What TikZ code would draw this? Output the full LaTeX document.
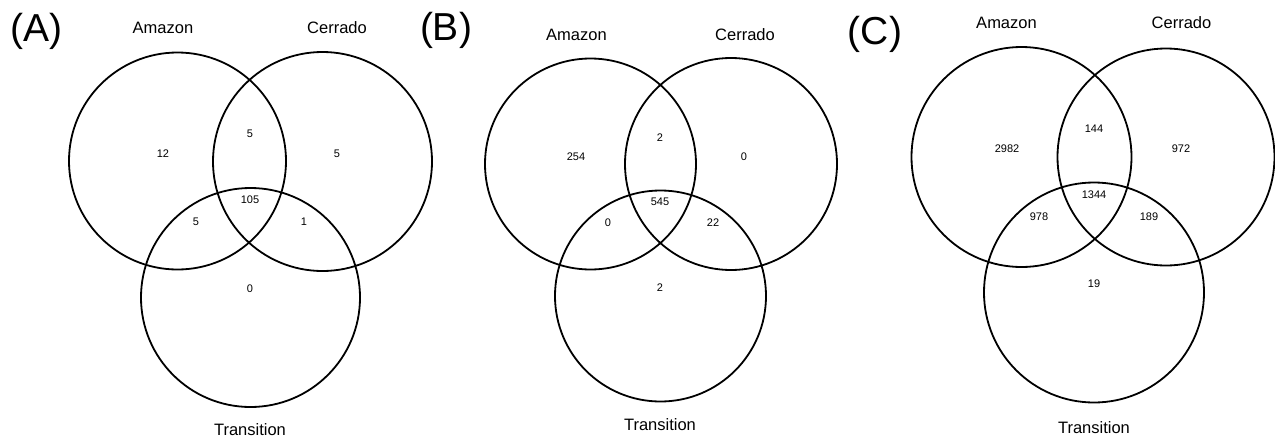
\documentclass[tikz,border=0pt]{standalone}
\usepackage{fontspec}
\setmainfont{Liberation Sans}
\begin{document}
\begin{tikzpicture}[x=1pt,y=-1pt,
  venn/.style={draw=black,line width=1.8pt},
  panel/.style={inner sep=0pt,font=\fontsize{39}{40}\selectfont},
  setlabel/.style={inner sep=0pt,font=\fontsize{16.5}{18}\selectfont},
  count/.style={inner sep=0pt,font=\fontsize{11}{12}\selectfont}]
\useasboundingbox[fill=white] (0,0) rectangle (1275,437);
% ---------- Panel A ----------
\coordinate (aA) at (177.5,161);
\coordinate (aC) at (322.5,161.5);
\coordinate (aT) at (250.5,297.5);
\draw[venn] (aA) circle (108.5);
\draw[venn] (aC) circle (109.5);
\draw[venn] (aT) circle (109.5);
\node[panel] (pA) at (36.5,31) {(A)};
\node[setlabel] (lAa) at (163,28) {Amazon};
\node[setlabel] (lAc) at (337,28) {Cerrado};
\node[setlabel] (lAt) at (250,429.5) {Transition};
\node[count] (nA1) at (163,154) {12};
\node[count] (nA2) at (250,134) {5};
\node[count] (nA3) at (337,154) {5};
\node[count] (nA4) at (250,200) {105};
\node[count] (nA5) at (196,222) {5};
\node[count] (nA6) at (304,222) {1};
\node[count] (nA7) at (250,289) {0};
% ---------- Panel B ----------
\coordinate (bA) at (590.5,164);
\coordinate (bC) at (731,164);
\coordinate (bT) at (660.5,296);
\draw[venn] (bA) circle (105.5);
\draw[venn] (bC) circle (106);
\draw[venn] (bT) circle (105.5);
\node[panel] (pB) at (446,30) {(B)};
\node[setlabel] (lBa) at (576.5,35) {Amazon};
\node[setlabel] (lBc) at (745,35) {Cerrado};
\node[setlabel] (lBt) at (660,425) {Transition};
\node[count] (nB1) at (576,157) {254};
\node[count] (nB2) at (660,138) {2};
\node[count] (nB3) at (744,157) {0};
\node[count] (nB4) at (660,202) {545};
\node[count] (nB5) at (608,223) {0};
\node[count] (nB6) at (713,223) {22};
\node[count] (nB7) at (660,288) {2};
% ---------- Panel C ----------
\coordinate (cA) at (1021.5,157);
\coordinate (cC) at (1166,157);
\coordinate (cT) at (1094,292.5);
\draw[venn] (cA) circle (110);
\draw[venn] (cC) circle (108.5);
\draw[venn] (cT) circle (110);
\node[panel] (pC) at (875,34) {(C)};
\node[setlabel] (lCa) at (1006.5,23) {Amazon};
\node[setlabel] (lCc) at (1181.5,23) {Cerrado};
\node[setlabel] (lCt) at (1094,428) {Transition};
\node[count] (nC1) at (1007,149) {2982};
\node[count] (nC2) at (1094,129) {144};
\node[count] (nC3) at (1181,149) {972};
\node[count] (nC4) at (1094,195) {1344};
\node[count] (nC5) at (1039,217) {978};
\node[count] (nC6) at (1149,217) {189};
\node[count] (nC7) at (1094,284) {19};
\end{tikzpicture}
\end{document}
